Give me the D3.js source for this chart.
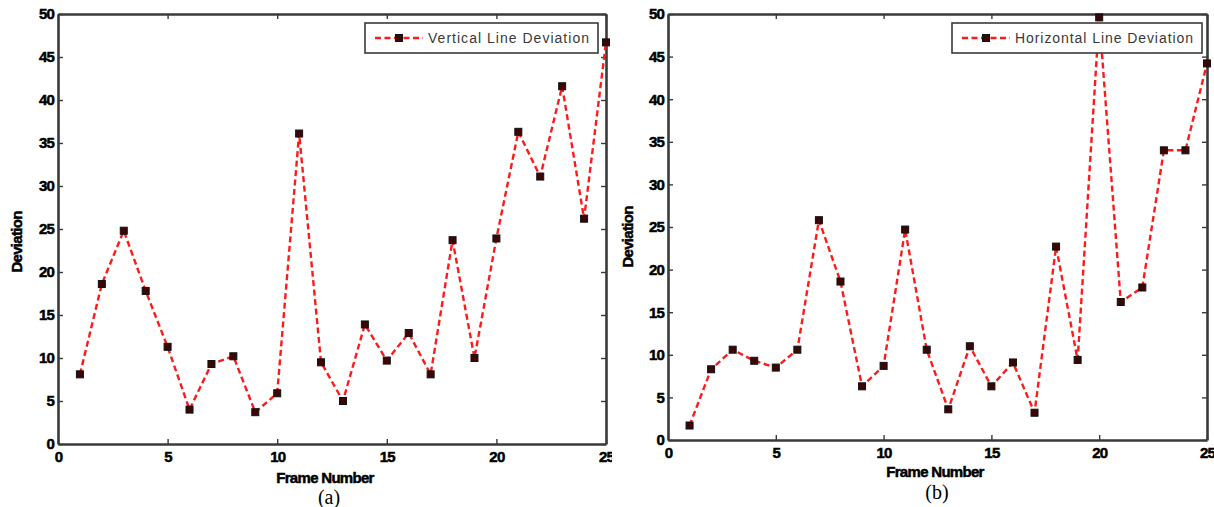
<!DOCTYPE html>
<html>
<head>
<meta charset="utf-8">
<script src="https://cdn.jsdelivr.net/npm/d3@7/dist/d3.min.js"></script>
<style>
  html, body { margin: 0; padding: 0; background: #fff; }
  svg { display: block; }
</style>
</head>
<body>
<svg id="chart" width="1214" height="507"></svg>
<script>
// Frame indices shared by both panels
const frames = d3.range(1, 26);

// Panel (a): deviation of vertical lines per frame
const verticalDeviation = [
  8.1, 18.6, 24.8, 17.8, 11.3, 4.0, 9.3, 10.2, 3.7, 5.9,
  36.1, 9.5, 5.0, 13.9, 9.7, 12.9, 8.1, 23.7, 10.0, 23.9,
  36.3, 31.1, 41.6, 26.2, 46.7
];

// Panel (b): deviation of horizontal lines per frame
const horizontalDeviation = [
  1.7, 8.3, 10.6, 9.3, 8.5, 10.6, 25.8, 18.6, 6.3, 8.7,
  24.7, 10.6, 3.6, 11.0, 6.3, 9.1, 3.2, 22.7, 9.4, 49.6,
  16.2, 17.9, 34.0, 34.0, 44.2
];

const xTicks = [0, 5, 10, 15, 20, 25];
const yTicks = [0, 5, 10, 15, 20, 25, 30, 35, 40, 45, 50];

const FONT = "'Liberation Sans', Arial, sans-serif";
const svg = d3.select("#chart");

function drawPanel(opt) {
  const g = svg.append("g");

  // white backdrop of the figure panel
  g.append("rect")
    .attr("x", opt.bgX).attr("y", 0)
    .attr("width", opt.bgW).attr("height", 507)
    .attr("fill", "#fff");

  const x = d3.scaleLinear().domain([0, 25]).range([opt.left, opt.right]);
  const y = d3.scaleLinear().domain([0, 50]).range([opt.bottom, opt.top]);

  const axisStyle = sel => {
    sel.select(".domain").attr("stroke", "#3a3a3a").attr("stroke-width", 2.6);
    sel.selectAll(".tick line").attr("stroke", "#3a3a3a").attr("stroke-width", 1.4);
    sel.selectAll(".tick text")
      .attr("font-family", FONT)
      .attr("font-weight", "bold")
      .attr("font-size", 15)
      .attr("letter-spacing", "-0.8px")
      .attr("fill", "#000")
      .attr("stroke", "#000").attr("stroke-width", 0.5);
  };

  g.append("g")
    .attr("transform", `translate(0,${opt.bottom})`)
    .call(d3.axisBottom(x).tickValues(xTicks).tickSize(-5).tickSizeOuter(0).tickPadding(7))
    .call(axisStyle);

  g.append("g")
    .attr("transform", `translate(0,${opt.top})`)
    .call(d3.axisTop(x).tickValues(xTicks).tickSize(-5).tickSizeOuter(0).tickFormat(""))
    .call(axisStyle);

  g.append("g")
    .attr("transform", `translate(${opt.left},0)`)
    .call(d3.axisLeft(y).tickValues(yTicks).tickSize(-5).tickSizeOuter(0).tickPadding(4))
    .call(axisStyle);

  g.append("g")
    .attr("transform", `translate(${opt.right},0)`)
    .call(d3.axisRight(y).tickValues(yTicks).tickSize(-5).tickSizeOuter(0).tickFormat(""))
    .call(axisStyle);

  const pts = frames.map((f, i) => [f, opt.values[i]]);

  g.append("path")
    .datum(pts)
    .attr("fill", "none")
    .attr("stroke", "#ff1a1a")
    .attr("stroke-width", 2.4)
    .attr("stroke-dasharray", "6,3.5")
    .attr("d", d3.line().x(d => x(d[0])).y(d => y(d[1])));

  g.append("g").selectAll("rect")
    .data(pts)
    .join("rect")
    .attr("x", d => x(d[0]) - 3.5)
    .attr("y", d => y(d[1]) - 3.5)
    .attr("width", 7).attr("height", 7)
    .attr("fill", "#3a0606")
    .attr("stroke", "#111")
    .attr("stroke-width", 1);

  // legend
  const lg = g.append("g");
  lg.append("rect")
    .attr("x", opt.legX).attr("y", 23)
    .attr("width", opt.legW).attr("height", 30)
    .attr("fill", "#fff").attr("stroke", "#3a3a3a").attr("stroke-width", 1.6);
  const ly = 38;
  lg.append("line")
    .attr("x1", opt.legX + 10).attr("x2", opt.legX + 58)
    .attr("y1", ly).attr("y2", ly)
    .attr("stroke", "#ff1a1a").attr("stroke-width", 2.4).attr("stroke-dasharray", "6,3.5");
  lg.append("rect")
    .attr("x", opt.legX + 34 - 3.5).attr("y", ly - 3.5)
    .attr("width", 7).attr("height", 7)
    .attr("fill", "#3a0606").attr("stroke", "#111");
  lg.append("text")
    .attr("x", opt.legX + 63).attr("y", ly + 5)
    .attr("font-family", FONT)
    .attr("font-size", 14).attr("fill", "#3a3a3a")
    .attr("textLength", opt.legTextW).attr("lengthAdjust", "spacing")
    .text(opt.legend);

  // axis titles
  g.append("text")
    .attr("transform", `translate(${opt.yLabelX},${opt.yLabelY}) rotate(-90)`)
    .attr("text-anchor", "middle")
    .attr("font-family", FONT)
    .attr("font-weight", "bold").attr("font-size", 15)
    .attr("letter-spacing", "-0.7px")
    .attr("fill", "#000").attr("stroke", "#000").attr("stroke-width", 0.5)
    .text("Deviation");

  g.append("text")
    .attr("x", opt.xLabelX).attr("y", opt.xLabelY)
    .attr("text-anchor", "middle")
    .attr("font-family", FONT)
    .attr("font-weight", "bold").attr("font-size", 15)
    .attr("letter-spacing", "-0.7px")
    .attr("fill", "#000").attr("stroke", "#000").attr("stroke-width", 0.5)
    .text("Frame Number");

  // panel caption
  g.append("text")
    .attr("x", opt.capX).attr("y", opt.capY)
    .attr("text-anchor", "middle")
    .attr("font-family", "'Liberation Serif', 'Times New Roman', serif")
    .attr("font-size", 20).attr("fill", "#000")
    .text(opt.caption);
}

drawPanel({
  bgX: 0, bgW: 612,
  left: 58, right: 606, top: 14, bottom: 444,
  values: verticalDeviation,
  legend: "Vertical Line Deviation",
  legX: 365, legW: 233, legTextW: 161,
  yLabelX: 22, yLabelY: 242,
  xLabelX: 325, xLabelY: 483,
  caption: "(a)", capX: 329, capY: 504
});

drawPanel({
  bgX: 612, bgW: 602,
  left: 668, right: 1207, top: 14, bottom: 440,
  values: horizontalDeviation,
  legend: "Horizontal Line Deviation",
  legX: 952, legW: 250, legTextW: 178,
  yLabelX: 633, yLabelY: 237,
  xLabelX: 935, xLabelY: 477,
  caption: "(b)", capX: 937, capY: 499
});
</script>
</body>
</html>
